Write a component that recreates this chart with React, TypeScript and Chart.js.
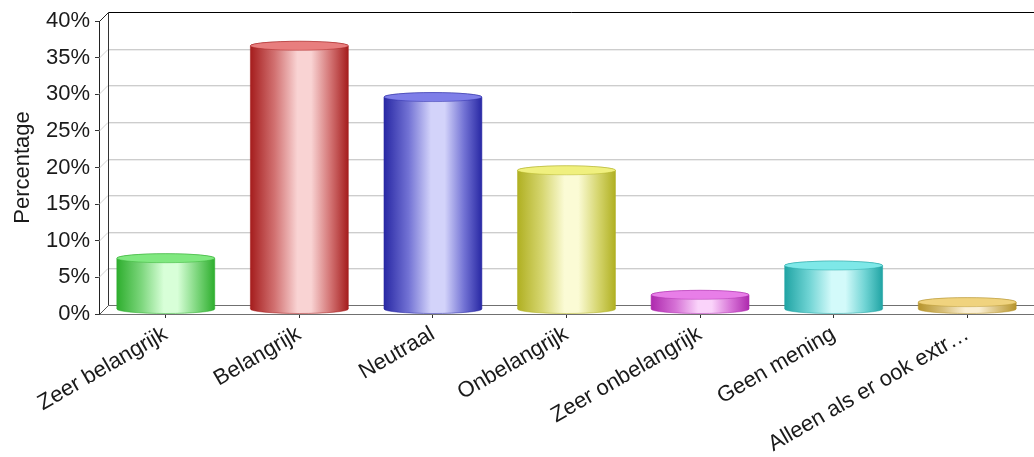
import React, { useEffect, useRef } from 'react';
import { Chart, registerables } from 'chart.js';

Chart.register(...registerables);

const categories = [
  'Zeer belangrijk',
  'Belangrijk',
  'Neutraal',
  'Onbelangrijk',
  'Zeer onbelangrijk',
  'Geen mening',
  'Alleen als er ook extr…',
];
const values = [7, 36, 29, 19, 2, 6, 1];
const yMax = 40;
const yStep = 5;

const edgeColors = ['#2eae2e', '#a51d1d', '#2828a4', '#b0b022', '#ae2aae', '#20a4a4', '#b6942c'];
const midColors = ['#7cd67c', '#d27272', '#7272d4', '#d6d670', '#d672d6', '#70d4d4', '#d8bf78'];
const lightColors = ['#d8ffd8', '#f9d3d3', '#d3d3fa', '#fbfbd5', '#fad3fa', '#d3fafa', '#fbf0d5'];
const topColors = ['#80e880', '#e87e7e', '#7e7ee8', '#f0f07e', '#e87ee8', '#7ee8e8', '#f0d37e'];

const DEPTH = 9;
const FONT = '"Liberation Sans", Arial, Helvetica, sans-serif';

function line(ctx: CanvasRenderingContext2D, x1: number, y1: number, x2: number, y2: number, color: string) {
  ctx.strokeStyle = color;
  ctx.lineWidth = 1;
  ctx.beginPath();
  ctx.moveTo(x1, y1);
  ctx.lineTo(x2, y2);
  ctx.stroke();
}

const wallPlugin = {
  id: 'wall3d',
  beforeDatasetsDraw(chart: any) {
    const { ctx, chartArea } = chart;
    const { left, right, top, bottom } = chartArea;
    const y = chart.scales.y;
    const D = DEPTH;
    ctx.save();
    y.ticks.forEach((t: any) => {
      if (t.value === 0 || t.value === y.max) return;
      const py = Math.round(y.getPixelForValue(t.value)) + 0.5;
      line(ctx, left + D, py - D, right, py - D, '#cdcdcd');
      line(ctx, left + D, py - D + 1, right, py - D + 1, '#ededed');
      line(ctx, left, py, left + D, py - D, '#d2d2d2');
    });
    const ty = Math.round(top) + 0.5;
    const byy = Math.round(bottom) + 0.5;
    const lx = Math.round(left) + 0.5;
    line(ctx, lx + D, ty - D, right, ty - D, '#000000');
    line(ctx, lx, ty, lx + D, ty - D, '#222222');
    line(ctx, lx + D, ty - D, lx + D, byy - D, '#333333');
    line(ctx, lx + D, byy - D, right, byy - D, '#707070');
    line(ctx, lx, byy, lx + D, byy - D, '#555555');
    ctx.restore();
  },
  afterDatasetsDraw(chart: any) {
    const { ctx } = chart;
    const meta = chart.getDatasetMeta(0);
    const D = DEPTH;
    ctx.save();
    meta.data.forEach((bar: any, i: number) => {
      const { x, y, base, width } = bar.getProps(['x', 'y', 'base', 'width'], true);
      const rx = width / 2;
      const ry = D / 2;
      const by = base - D / 2;
      const ty = y - D / 2;
      const g = ctx.createLinearGradient(x - rx, 0, x + rx, 0);
      g.addColorStop(0, edgeColors[i]);
      g.addColorStop(0.25, midColors[i]);
      g.addColorStop(0.48, lightColors[i]);
      g.addColorStop(0.62, lightColors[i]);
      g.addColorStop(0.82, midColors[i]);
      g.addColorStop(1, edgeColors[i]);
      ctx.beginPath();
      ctx.moveTo(x - rx, ty);
      ctx.lineTo(x - rx, by);
      ctx.ellipse(x, by, rx, ry, 0, Math.PI, 0, true);
      ctx.lineTo(x + rx, ty);
      ctx.ellipse(x, ty, rx, ry, 0, 0, Math.PI, true);
      ctx.closePath();
      ctx.fillStyle = g;
      ctx.fill();
      ctx.globalAlpha = 0.55;
      ctx.strokeStyle = edgeColors[i];
      ctx.lineWidth = 1;
      ctx.stroke();
      ctx.globalAlpha = 1;
      ctx.beginPath();
      ctx.ellipse(x, ty, rx, ry, 0, 0, Math.PI * 2);
      ctx.fillStyle = topColors[i];
      ctx.fill();
      ctx.globalAlpha = 0.45;
      ctx.strokeStyle = edgeColors[i];
      ctx.stroke();
      ctx.globalAlpha = 1;
    });
    ctx.restore();
  },
};

export default function App() {
  const ref = useRef<HTMLCanvasElement | null>(null);
  useEffect(() => {
    if (!ref.current) return;
    const chart = new Chart(ref.current, {
      type: 'bar',
      data: {
        labels: categories,
        datasets: [
          {
            data: values,
            backgroundColor: 'rgba(0,0,0,0)',
            borderWidth: 0,
            barPercentage: 0.733,
            categoryPercentage: 1,
          },
        ],
      },
      options: {
        animation: false,
        responsive: true,
        maintainAspectRatio: false,
        layout: { padding: { top: 21, right: 0, left: 0, bottom: 0 } },
        plugins: { legend: { display: false }, tooltip: { enabled: false } },
        scales: {
          x: {
            afterFit: (s: any) => {
              s.height = 143;
            },
            grid: { drawOnChartArea: false, offset: false, tickLength: 4, color: '#333333' },
            border: { color: '#707070' },
            ticks: {
              minRotation: 30,
              maxRotation: 30,
              autoSkip: false,
              padding: 3,
              color: '#1a1a1a',
              font: { family: FONT, size: 22 },
            },
          },
          y: {
            min: 0,
            max: yMax,
            afterFit: (s: any) => {
              s.width = 99;
            },
            grid: { drawOnChartArea: false, tickLength: 4, color: '#333333' },
            border: { color: '#222222' },
            title: {
              display: true,
              text: 'Percentage',
              color: '#1a1a1a',
              font: { family: FONT, size: 22 },
              padding: { top: 10, bottom: 0 },
            },
            ticks: {
              stepSize: yStep,
              padding: 5,
              color: '#1a1a1a',
              font: { family: FONT, size: 22 },
              callback: (v: any) => v + '%',
            },
          },
        },
      },
      plugins: [wallPlugin],
    });
    return () => chart.destroy();
  }, []);
  return (
    <div style={{ position: 'fixed', left: 0, top: 0, width: 1034, height: 457, background: '#fff' }}>
      <canvas ref={ref} />
    </div>
  );
}
